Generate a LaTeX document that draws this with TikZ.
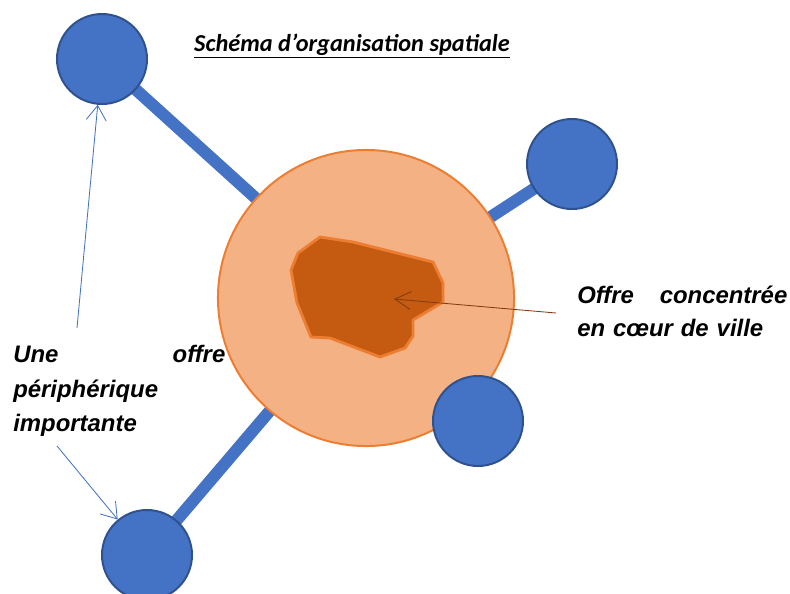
\documentclass[tikz,border=0pt]{standalone}
\usepackage{fontspec}
\setmainfont{Liberation Sans}
\newfontfamily\titrefont{Carlito}
\usetikzlibrary{arrows.meta, positioning, backgrounds}
\definecolor{poleblue}{HTML}{4472C4}
\definecolor{poleedge}{HTML}{2F528F}
\definecolor{villefill}{HTML}{F4B183}
\definecolor{villeedge}{HTML}{ED7D31}
\definecolor{coeurfill}{HTML}{C55A11}
\definecolor{coeurarrow}{HTML}{843C0C}

\begin{document}
\begin{tikzpicture}[
  x=0.025cm, y=-0.025cm,
  every node/.style={font=\bfseries\itshape\fontsize{17}{23}\selectfont},
  pole/.style={circle, draw=poleedge, line width=1.4pt, fill=poleblue,
               minimum size=2.25cm, inner sep=0pt},
  ville/.style={circle, draw=villeedge, line width=1.4pt, fill=villefill,
                minimum size=7.4cm, inner sep=0pt},
  liaison/.style={line width=0.3cm, poleblue},
  renvoi/.style={-{Straight Barb[length=0.37cm, width=0.5cm]}, poleblue, line width=0.6pt},
  renvoicoeur/.style={-{Straight Barb[length=0.4cm, width=0.45cm]}, coeurarrow, line width=0.6pt},
  legende/.style={inner sep=0pt, align=left, anchor=north west}
]
\useasboundingbox (0,0) rectangle (790,593);
\node[font=\titrefont\bfseries\itshape\fontsize{17.3}{20}\selectfont] (titre) at (352,46) {\underline{Schéma d’organisation spatiale}};
% ville centre et coeur
\node[ville] (ville) at (366,298) {};
\draw[fill=coeurfill, draw=villeedge, line width=2pt, line join=round]
  (320,237) -- (298,253) -- (291,270) -- (297,303) -- (311,337) -- (330,338)
  -- (380,357) -- (405,348) -- (413,336) -- (413,320) -- (443,302) -- (443,283)
  -- (433,262) -- (353,242) -- cycle;
% poles peripheriques
\node[pole] (nordouest) at (102,59) {};
\node[pole] (est) at (572,164) {};
\node[pole] (sudest) at (478,421) {};
\node[pole] (sudouest) at (147,555) {};
\begin{scope}[on background layer]
\draw[liaison] (nordouest.center) -- (ville.center);
\draw[liaison] (est.center) -- (ville.center);
\draw[liaison] (sudouest.center) -- (ville.center);
\end{scope}
% legendes
\node[legende, text width=5.3cm, font=\bfseries\itshape\fontsize{17}{24.5}\selectfont] (periph) at (13,345) {Une\hfill offre\\périphérique\\importante};
\node[legende, text width=5.25cm] (centre) at (577,286) {Offre\hfill concentrée\\en cœur de ville};
\coordinate (periphhaut) at (77,328);
\coordinate (periphbas) at (57,446);
\coordinate (centrequeue) at (556,313);
\coordinate (coeurcible) at (394,299);
\draw[renvoi] (periphhaut) -- (nordouest);
\draw[renvoi] (periphbas) -- (sudouest);
\draw[renvoicoeur] (centrequeue) -- (coeurcible);
\end{tikzpicture}
\end{document}
